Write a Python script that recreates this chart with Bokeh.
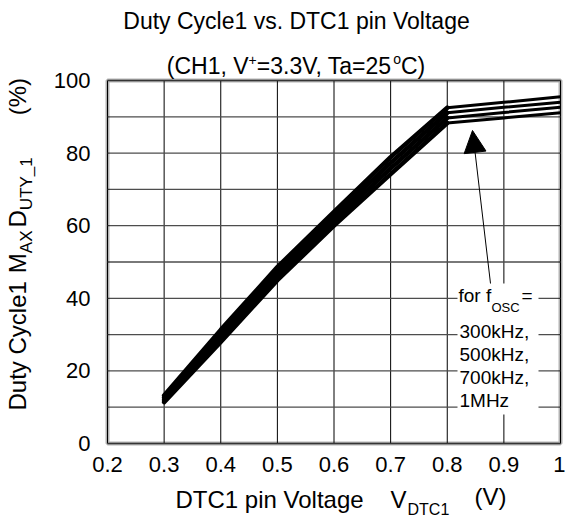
import math
from bokeh.plotting import figure
from bokeh.models import FixedTicker, Label, Arrow, NormalHead, BoxAnnotation, Range1d
from bokeh.embed import file_html
from bokeh.resources import INLINE

# ---------------- data ----------------
volts = [0.3, 0.4, 0.5, 0.6, 0.7, 0.8, 0.9, 1.0]
duty_300k = [13.2, 31.3, 48.6, 63.8, 78.9, 92.5, 94.0, 95.5]
duty_500k = [12.6, 30.2, 47.4, 62.5, 77.3, 91.1, 92.6, 94.0]
duty_700k = [12.0, 29.1, 46.2, 61.2, 75.8, 89.7, 91.2, 92.6]
duty_1m = [11.4, 28.0, 45.0, 60.0, 74.2, 88.3, 89.7, 91.1]
series = [duty_300k, duty_500k, duty_700k, duty_1m]
knee = volts.index(0.8)

x_ticks = [0.2, 0.3, 0.4, 0.5, 0.6, 0.7, 0.8, 0.9, 1.0]
x_tick_labels = ["0.2", "0.3", "0.4", "0.5", "0.6", "0.7", "0.8", "0.9", "1"]
y_ticks = [0, 20, 40, 60, 80, 100]
y_grid_lines = [0, 10, 20, 30, 40, 50, 60, 70, 80, 90, 100]

legend_lines = ["300kHz,", "500kHz,", "700kHz,", "1MHz"]

# ---------------- layout (page pixels) ----------------
FONT = "Liberation Sans"
W, H = 565, 525
FL, FR, FT, FB = 107, 560, 80, 443  # plot-area edges in pixels
BASE_FIX = 0.37  # label anchor correction (fraction of font size)

def X(px):
    return x_ticks[0] + (px - FL) / (FR - FL) * (x_ticks[-1] - x_ticks[0])

def Y(py):
    return y_ticks[0] + (FB - py) / (FB - FT) * (y_ticks[-1] - y_ticks[0])

AW = {' ': 278, '(': 333, ')': 333, '+': 584, ',': 278, '.': 278, '=': 584, '%': 889, '_': 556,
      'A': 667, 'C': 722, 'D': 722, 'H': 722, 'M': 833, 'O': 778, 'S': 667, 'T': 611, 'U': 722,
      'V': 667, 'X': 667, 'Y': 667, 'a': 556, 'c': 500, 'e': 556, 'f': 278, 'g': 556, 'i': 222,
      'k': 500, 'l': 222, 'n': 556, 'o': 556, 'p': 556, 'r': 333, 's': 500, 't': 278, 'u': 556,
      'v': 500, 'y': 500, 'z': 500}

def tw(s, size):
    return sum(AW.get(c, 556) for c in s) / 1000.0 * size

p = figure(width=W, height=H, output_backend="svg", toolbar_location=None,
           x_range=Range1d(X(0), X(W)), y_range=Range1d(Y(H), Y(0)), min_border=0)
p.background_fill_color = "white"
p.border_fill_color = "white"
p.outline_line_color = None
p.grid.visible = False

# real axes, pinned to the edges of the plot area
p.xaxis.fixed_location = y_ticks[0]
p.yaxis.fixed_location = x_ticks[0]
p.xaxis.ticker = FixedTicker(ticks=x_ticks)
p.xaxis.major_label_overrides = dict(zip(x_ticks, x_tick_labels))
p.yaxis.ticker = FixedTicker(ticks=y_ticks)
for ax in (p.xaxis, p.yaxis):
    ax.axis_line_color = None
    ax.major_tick_line_color = None
    ax.minor_tick_line_color = None
    ax.major_label_text_font = FONT
    ax.major_label_text_font_size = "22px"
    ax.major_label_text_color = "black"
p.xaxis.major_label_standoff = 7
p.yaxis.major_label_standoff = 11

# grid lines inside the plot area
n = len(x_ticks)
p.segment(x0=x_ticks, y0=[y_grid_lines[0]] * n, x1=x_ticks, y1=[y_grid_lines[-1]] * n,
          line_color="#000000", line_width=1)
m = len(y_grid_lines)
p.segment(x0=[x_ticks[0]] * m, y0=y_grid_lines, x1=[x_ticks[-1]] * m, y1=y_grid_lines,
          line_color="#4d4d4d", line_width=1.3)

# curves: steep part merges into one thick band, flat part shows separate lines
for ys in series:
    p.line(volts[:knee + 1], ys[:knee + 1], line_color="black", line_width=4.5,
           line_join="round", line_cap="round")
    p.line(volts[knee:], ys[knee:], line_color="black", line_width=3, line_join="round")

# plot-area border
p.add_layout(BoxAnnotation(left=x_ticks[0], right=x_ticks[-1], bottom=y_ticks[0], top=y_ticks[-1],
                           fill_alpha=0, line_color="black", line_width=4))

# white box behind the legend text
p.add_layout(BoxAnnotation(left=X(457), right=X(538), top=Y(283), bottom=Y(414),
                           fill_color="white", fill_alpha=1.0, line_color=None))
p.add_layout(Arrow(end=NormalHead(size=22, fill_color="black", line_color="black"),
                   x_start=X(490), y_start=Y(283), x_end=X(472), y_end=Y(130),
                   line_color="black", line_width=1))


def put(text, px, py, size, angle=0.0, align="left"):
    if angle == 0.0:
        py -= BASE_FIX * size
    else:
        px -= BASE_FIX * size
    p.add_layout(Label(x=X(px), y=Y(py), text=text, text_font=FONT,
                       text_font_size=f"{size}px", text_align=align,
                       text_baseline="alphabetic", angle=angle, text_color="black"))

# legend text
put("for f", 458, 302, 19)
put("OSC", 491, 312, 13)
put("=", 521, 302, 19)
for i, t in enumerate(legend_lines):
    put(t, 459, 338 + 23 * i, 19)

# title
put("Duty Cycle1 vs. DTC1 pin Voltage", 296, 29, 23, align="center")
t2 = [("(CH1, V", 23, 0, 0), ("+", 14, -9, 0), ("=3.3V, Ta=25", 23, 0, 0), ("o", 14, -10, -3), ("C)", 23, 0, -3)]
tot = sum(tw(t, s) for t, s, _, _ in t2)
x = 297 - tot / 2
for t, s, dy, dx in t2:
    put(t, x + dx, 74 + dy, s)
    x += tw(t, s)

# x axis label
put("DTC1 pin Voltage", 175, 508, 24)
put("V", 390, 508, 24)
put("DTC1", 407, 515, 16)
put("(V)", 474, 505, 24)

# y axis label (rotated, reading upward)
R = math.pi / 2
ylab = [("Duty Cycle1", 0, 24, 0), ("M", 8, 24, 0), ("AX", 0, 17, 6),
        ("D", 3, 24, 0), ("UTY_1", 0, 17, 6), ("(%)", 42, 24, 0)]
yy = 410
for t, gap, s, shift in ylab:
    yy -= gap
    put(t, 26 + shift, yy, s, angle=R)
    yy -= tw(t, s)

open("out.html", "w").write(file_html(p, INLINE))
